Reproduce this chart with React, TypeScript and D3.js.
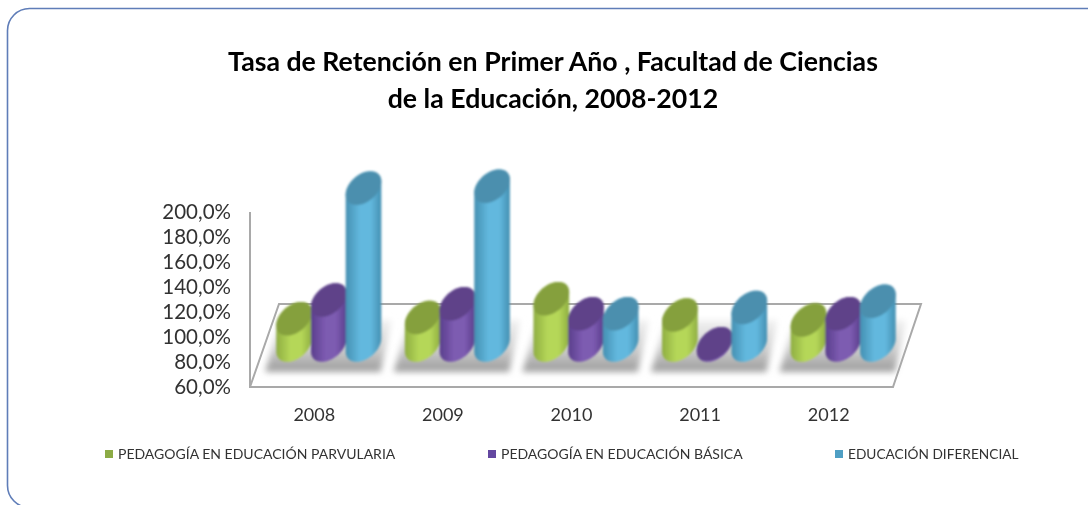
import React from "react";
import * as d3 from "d3";

const categories = ["2008", "2009", "2010", "2011", "2012"];
const seriesNames = [
  "PEDAGOGÍA EN EDUCACIÓN PARVULARIA",
  "PEDAGOGÍA EN EDUCACIÓN BÁSICA",
  "EDUCACIÓN DIFERENCIAL",
];
const parvularia = [81, 82, 97, 84, 80];
const basica = [96, 93, 85, 61, 85];
const diferencial = [185.5, 187, 85, 90, 95];
const yTicks = [60, 80, 100, 120, 140, 160, 180, 200];
const titleLines = [
  "Tasa de Retención en Primer Año , Facultad de Ciencias",
  "de la Educación, 2008-2012",
];

const series = [parvularia, basica, diferencial];
const palette = [
  { edge: "#8fae42", mid: "#b5d758", top: "#85a03e" },
  { edge: "#5a3e8c", mid: "#7d5bb1", top: "#5e4289" },
  { edge: "#4590b2", mid: "#62b8de", top: "#4c8fae" },
];
const legendColors = ["#8cab45", "#6347a0", "#4f9fc4"];
const legendX = [105, 488, 835];

const W = 1088;
const H = 505;
const y = d3.scaleLinear().domain([60, 200]).range([387, 212]);
const x = d3.scaleBand<string>().domain(categories).range([250, 893]);
const depth = 42;
const semiMajor = 20.5, semiMinor = 13.5;
const tilt = (41 * Math.PI) / 180;
const t0 = Math.atan2(semiMinor * Math.sin(tilt), semiMajor * Math.cos(tilt));
const fmt = (v: number) => v.toFixed(1).replace(".", ",") + "%";

function ellipsePoint(cx: number, cy: number, t: number): [number, number] {
  return [
    cx + semiMajor * Math.cos(t) * Math.cos(tilt) + semiMinor * Math.sin(t) * Math.sin(tilt),
    cy - semiMajor * Math.cos(t) * Math.sin(tilt) + semiMinor * Math.sin(t) * Math.cos(tilt),
  ];
}
const line = d3.line();
function halfArc(cx: number, cy: number, start: number) {
  return d3.range(0, 25).map((i) => ellipsePoint(cx, cy, start + (i / 24) * Math.PI));
}
function cylinder(cx: number, topY: number, botY: number) {
  const lower = halfArc(cx, botY, t0);
  const upper = halfArc(cx, topY, t0 + Math.PI);
  return line([...lower, ...upper]) + "Z";
}
function topCap(cx: number, topY: number) {
  return line(d3.range(0, 49).map((i) => ellipsePoint(cx, topY, (i / 48) * 2 * Math.PI))) + "Z";
}

export default function App() {
  const base = y(60) - depth;
  const step = x.step();
  return (
    <svg width={W} height={H} style={{ position: "absolute", left: 0, top: 0, background: "#fff" }} fontFamily="Lato, 'Open Sans', sans-serif">
      <defs>
        {palette.map((p, i) => (
          <linearGradient key={i} id={`g${i}`} x1="0" x2="1" y1="0" y2="0">
            <stop offset="0" stopColor={p.edge} />
            <stop offset="0.4" stopColor={p.mid} />
            <stop offset="0.7" stopColor={p.mid} />
            <stop offset="1" stopColor={p.edge} />
          </linearGradient>
        ))}
        <linearGradient id="shadow" x1="0" x2="0" y1="0" y2="1">
          <stop offset="0" stopColor="#f2f2f2" />
          <stop offset="0.55" stopColor="#cfcfcf" />
          <stop offset="0.9" stopColor="#a6a6a6" />
          <stop offset="1" stopColor="#a0a0a0" />
        </linearGradient>
        <filter id="blurS" x="-20%" y="-20%" width="140%" height="140%"><feGaussianBlur stdDeviation="3.2" /></filter>
        <filter id="blurC" x="-10%" y="-10%" width="120%" height="120%"><feGaussianBlur stdDeviation="0.8" /></filter>
        <filter id="blurT" x="-5%" y="-20%" width="110%" height="140%"><feGaussianBlur stdDeviation="0.35" /></filter>
      </defs>

      <rect x={7.5} y={8.5} width={1110} height={499} rx={22} fill="#fff" stroke="#5f7db8" strokeWidth={1.6} />

      <g filter="url(#blurT)">
        {titleLines.map((t, i) => (
          <text key={i} x={553} y={71 + i * 37} textAnchor="middle" fontSize={26.7} fontWeight={700} fill="#000">{t}</text>
        ))}
      </g>

      <path d={`M250,${y(200)} L250,${y(60)} L893,${y(60)} L921,${y(60) - 83} L279,${y(60) - 83} L250,${y(60)}`} fill="#fff" stroke="#a9a9a9" strokeWidth={2} />

      <g filter="url(#blurS)">
        {categories.map((c) => {
          const x0 = x(c)!;
          return (
            <path key={c} d={`M${x0 + 15},372 L${x0 + 30},320 L${x0 + step + 13},320 L${x0 + step + 2},372 Z`} fill="url(#shadow)" />
          );
        })}
      </g>

      <g filter="url(#blurC)">
        {categories.map((c, ci) => {
          const center = x(c)! + x.bandwidth() / 2 + 14.5;
          return series.map((s, si) => {
            const cx = center + (si - 1) * 34.7;
            const top = y(s[ci]) - depth;
            return (
              <g key={c + si}>
                <path d={cylinder(cx, top, base)} fill={`url(#g${si})`} />
                <path d={topCap(cx, top)} fill={palette[si].top} />
              </g>
            );
          });
        })}
      </g>

      <g filter="url(#blurT)">
        {yTicks.map((t) => (
          <text key={t} x={231} y={y(t) + 7} textAnchor="end" fontSize={20.5} fill="#333">{fmt(t)}</text>
        ))}
        {categories.map((c) => (
          <text key={c} x={x(c)! + x.bandwidth() / 2} y={421} textAnchor="middle" fontSize={18} fill="#333">{c}</text>
        ))}
        {seriesNames.map((n, i) => (
          <g key={n}>
            <rect x={legendX[i]} y={450} width={8} height={8} fill={legendColors[i]} />
            <text x={legendX[i] + 13} y={458.5} fontSize={i === 2 ? 13.7 : 14} fill="#333">{n}</text>
          </g>
        ))}
      </g>
    </svg>
  );
}
